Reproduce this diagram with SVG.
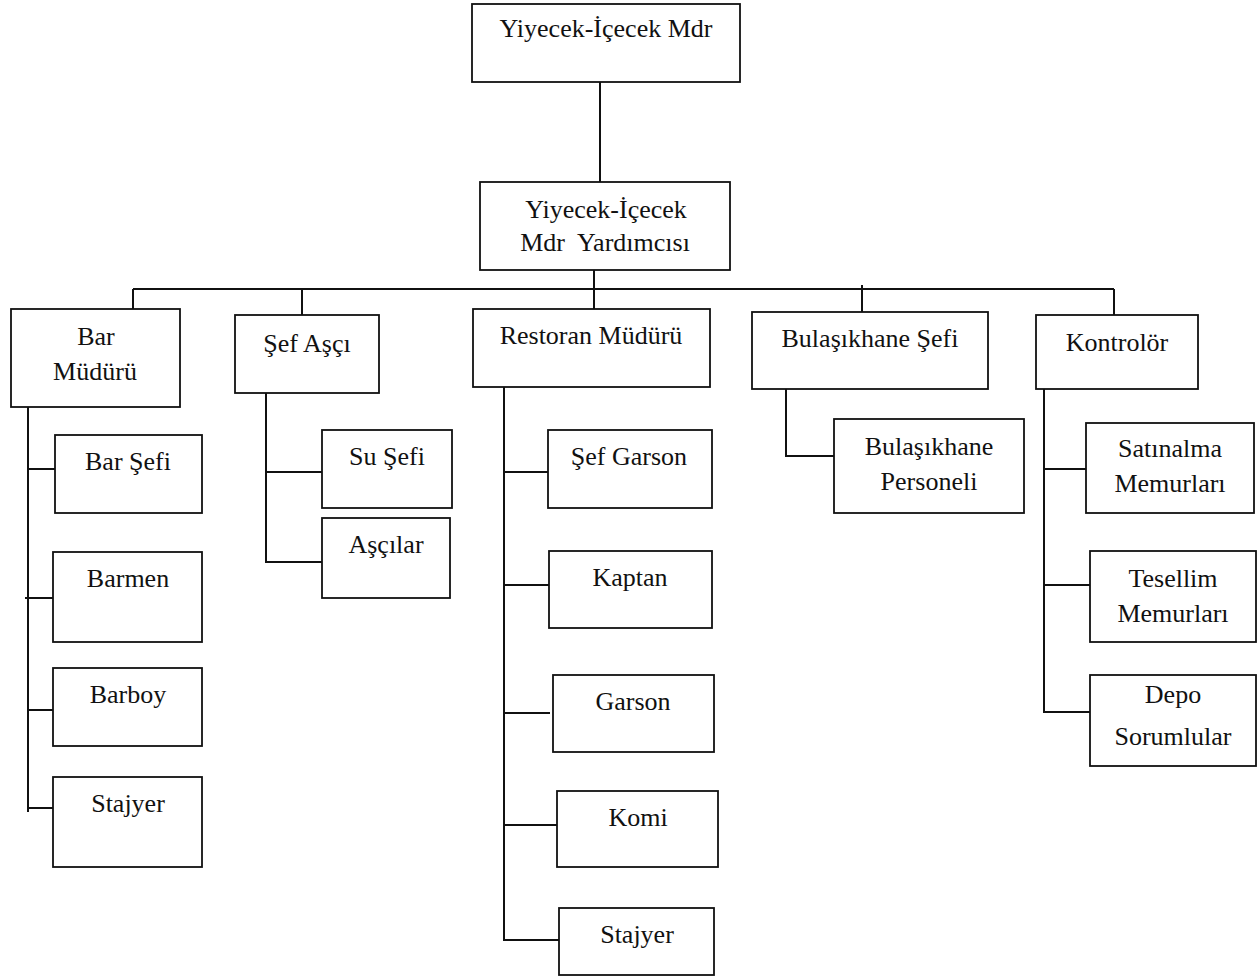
<svg xmlns="http://www.w3.org/2000/svg" width="1260" height="976" viewBox="0 0 1260 976">
  <style>
    .box { fill: #ffffff; stroke: #111111; stroke-width: 1.8; }
    .lbl { font-family: "Liberation Serif", "Times New Roman", serif; font-size: 26px; fill: #111111; text-anchor: middle; }
    .wire { fill: none; stroke: #111111; stroke-width: 2; }
  </style>
  <rect width="1260" height="976" fill="#ffffff"/>

  <!-- connectors -->
  <g id="connectors" class="wire">
    <line x1="600" y1="82" x2="600" y2="182"/>
    <line x1="594" y1="270" x2="594" y2="309"/>
    <line x1="133" y1="289" x2="1114" y2="289"/>
    <line x1="133" y1="289" x2="133" y2="309"/>
    <line x1="302" y1="289" x2="302" y2="315"/>
    <line x1="862" y1="285" x2="862" y2="312"/>
    <line x1="1114" y1="289" x2="1114" y2="315"/>

    <!-- Bar Müdürü branch -->
    <line x1="28" y1="407" x2="28" y2="812"/>
    <line x1="28" y1="469" x2="55" y2="469"/>
    <line x1="25" y1="598" x2="53" y2="598"/>
    <line x1="28" y1="710" x2="56" y2="710"/>
    <line x1="27" y1="808" x2="56" y2="808"/>

    <!-- Şef Aşçı branch -->
    <line x1="266" y1="393" x2="266" y2="562"/>
    <line x1="266" y1="472" x2="322" y2="472"/>
    <line x1="265" y1="562" x2="322" y2="562"/>

    <!-- Restoran Müdürü branch -->
    <line x1="504" y1="385" x2="504" y2="941"/>
    <line x1="504" y1="472" x2="548" y2="472"/>
    <line x1="504" y1="585" x2="549" y2="585"/>
    <line x1="504" y1="713" x2="550" y2="713"/>
    <line x1="504" y1="825" x2="557" y2="825"/>
    <line x1="504" y1="940" x2="559" y2="940"/>

    <!-- Bulaşıkhane Şefi branch -->
    <polyline points="786,389 786,456 834,456"/>

    <!-- Kontrolör branch -->
    <line x1="1044" y1="389" x2="1044" y2="712"/>
    <line x1="1044" y1="469" x2="1090" y2="469"/>
    <line x1="1044" y1="585" x2="1090" y2="585"/>
    <line x1="1043" y1="712" x2="1092" y2="712"/>
  </g>

  <!-- nodes -->
  <g id="n-yiyecek-mdr">
    <rect class="box" x="472" y="4" width="268" height="78"/>
    <text class="lbl" x="606" y="37">Yiyecek-İçecek Mdr</text>
  </g>
  <g id="n-yiyecek-mdr-yrd">
    <rect class="box" x="480" y="182" width="250" height="88"/>
    <text class="lbl" x="606" y="218">Yiyecek-İçecek</text>
    <text class="lbl" x="605" y="251">Mdr&#160; Yardımcısı</text>
  </g>

  <g id="n-bar-mudur">
    <rect class="box" x="11" y="309" width="169" height="98"/>
    <text class="lbl" x="96" y="345">Bar</text>
    <text class="lbl" x="95" y="380">Müdürü</text>
  </g>
  <g id="n-bar-sefi">
    <rect class="box" x="55" y="435" width="147" height="78"/>
    <text class="lbl" x="128" y="470">Bar Şefi</text>
  </g>
  <g id="n-barmen">
    <rect class="box" x="53" y="552" width="149" height="90"/>
    <text class="lbl" x="128" y="587">Barmen</text>
  </g>
  <g id="n-barboy">
    <rect class="box" x="53" y="668" width="149" height="78"/>
    <text class="lbl" x="128" y="703">Barboy</text>
  </g>
  <g id="n-bar-stajyer">
    <rect class="box" x="53" y="777" width="149" height="90"/>
    <text class="lbl" x="128" y="812">Stajyer</text>
  </g>

  <g id="n-sef-asci">
    <rect class="box" x="235" y="315" width="144" height="78"/>
    <text class="lbl" x="307" y="352">Şef Aşçı</text>
  </g>
  <g id="n-su-sefi">
    <rect class="box" x="322" y="430" width="130" height="78"/>
    <text class="lbl" x="387" y="465">Su Şefi</text>
  </g>
  <g id="n-ascilar">
    <rect class="box" x="322" y="518" width="128" height="80"/>
    <text class="lbl" x="386" y="553">Aşçılar</text>
  </g>

  <g id="n-restoran-mudur">
    <rect class="box" x="473" y="309" width="237" height="78"/>
    <text class="lbl" x="591" y="344">Restoran Müdürü</text>
  </g>
  <g id="n-sef-garson">
    <rect class="box" x="548" y="430" width="164" height="78"/>
    <text class="lbl" x="629" y="465">Şef Garson</text>
  </g>
  <g id="n-kaptan">
    <rect class="box" x="549" y="551" width="163" height="77"/>
    <text class="lbl" x="630" y="586">Kaptan</text>
  </g>
  <g id="n-garson">
    <rect class="box" x="553" y="675" width="161" height="77"/>
    <text class="lbl" x="633" y="710">Garson</text>
  </g>
  <g id="n-komi">
    <rect class="box" x="557" y="791" width="161" height="76"/>
    <text class="lbl" x="638" y="826">Komi</text>
  </g>
  <g id="n-rest-stajyer">
    <rect class="box" x="559" y="908" width="155" height="67"/>
    <text class="lbl" x="637" y="943">Stajyer</text>
  </g>

  <g id="n-bulasikhane-sefi">
    <rect class="box" x="752" y="312" width="236" height="77"/>
    <text class="lbl" x="870" y="347">Bulaşıkhane Şefi</text>
  </g>
  <g id="n-bulasikhane-personeli">
    <rect class="box" x="834" y="419" width="190" height="94"/>
    <text class="lbl" x="929" y="455">Bulaşıkhane</text>
    <text class="lbl" x="929" y="490">Personeli</text>
  </g>

  <g id="n-kontrolor">
    <rect class="box" x="1036" y="315" width="162" height="74"/>
    <text class="lbl" x="1117" y="351">Kontrolör</text>
  </g>
  <g id="n-satinalma">
    <rect class="box" x="1086" y="423" width="168" height="90"/>
    <text class="lbl" x="1170" y="457">Satınalma</text>
    <text class="lbl" x="1170" y="492">Memurları</text>
  </g>
  <g id="n-tesellim">
    <rect class="box" x="1090" y="551" width="166" height="91"/>
    <text class="lbl" x="1173" y="587">Tesellim</text>
    <text class="lbl" x="1173" y="622">Memurları</text>
  </g>
  <g id="n-depo">
    <rect class="box" x="1090" y="675" width="166" height="91"/>
    <text class="lbl" x="1173" y="703">Depo</text>
    <text class="lbl" x="1173" y="745">Sorumlular</text>
  </g>
</svg>
